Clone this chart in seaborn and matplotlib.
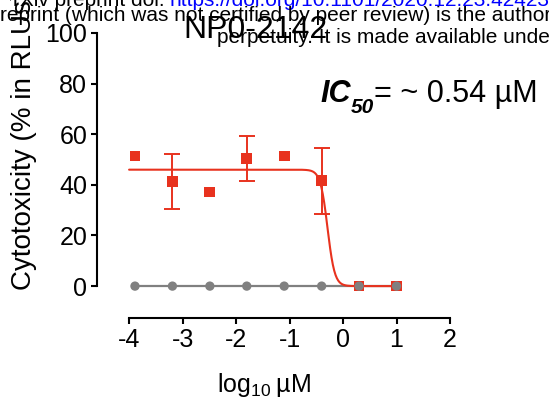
import numpy as np
import pandas as pd
import matplotlib
matplotlib.use("Agg")
import matplotlib.pyplot as plt
import seaborn as sns

# data (log10 uM, 5-fold dilution from 10 uM)
log_conc = [-3.89, -3.19, -2.49, -1.80, -1.10, -0.40, 0.30, 1.00]
cytotox = [51.4, 41.2, 37.2, 50.3, 51.4, 41.6, 0.0, 0.0]
err_lo = [0.0, 10.9, 0.0, 8.7, 0.0, 13.0, 0.0, 0.0]
err_hi = [0.0, 11.0, 0.0, 9.0, 0.0, 13.1, 0.0, 0.0]
control = [0, 0, 0, 0, 0, 0, 0, 0]

# fitted 4PL parameters
fit_top = 46.0
fit_bottom = 0.0
fit_logic50 = -0.29
fit_hill = 6.5

red = "#e8321e"
gray = "#808080"

sns.set_theme(style="ticks")
plt.rcParams["font.family"] = ["Liberation Sans", "DejaVu Sans"]
plt.rcParams["axes.unicode_minus"] = False
plt.rcParams["mathtext.fontset"] = "custom"
plt.rcParams["mathtext.rm"] = "Liberation Sans"

fig = plt.figure(figsize=(5.49, 4.12), dpi=100)
ax = fig.add_axes([97 / 549, 1 - 318 / 412, (450 - 97) / 549, (318 - 33) / 412])

df = pd.DataFrame({"x": log_conc, "y": cytotox, "ctrl": control})

# control line (gray)
sns.lineplot(data=df, x="x", y="ctrl", ax=ax, color=gray, lw=1.6, zorder=2)

# fitted curve
xs = np.linspace(-4.0, 1.0, 400)
ys = fit_bottom + (fit_top - fit_bottom) / (1 + 10 ** (fit_hill * (xs - fit_logic50)))
ax.plot(xs, ys, color=red, lw=1.5, zorder=3)

# error bars
has_err = [i for i in range(len(log_conc)) if err_hi[i] > 0]
ax.errorbar([log_conc[i] for i in has_err], [cytotox[i] for i in has_err],
            yerr=[[err_lo[i] for i in has_err], [err_hi[i] for i in has_err]],
            fmt="none", ecolor=red, elinewidth=1.4, capsize=5.5, capthick=1.4, zorder=3)

sns.scatterplot(data=df, x="x", y="y", ax=ax, marker="s", s=60, color=red,
                edgecolor="none", zorder=4)
sns.scatterplot(data=df, x="x", y="ctrl", ax=ax, marker="o", s=45, color=gray,
                edgecolor="none", zorder=5)

ax.set_xlim(-4.6, 2.0)
ax.set_ylim(-12.6, 100)
ax.spines["left"].set_bounds(0, 100)
ax.spines["bottom"].set_bounds(-4, 2)
for s in ["top", "right"]:
    ax.spines[s].set_visible(False)
for s in ["left", "bottom"]:
    ax.spines[s].set_color("black")
    ax.spines[s].set_linewidth(1.5)
ax.set_xticks([-4, -3, -2, -1, 0, 1, 2])
ax.set_yticks([0, 20, 40, 60, 80, 100])
ax.tick_params(axis="both", labelsize=18, width=1.5, length=4, color="black",
               labelcolor="black", pad=3)
ax.set_xlabel("")
ax.set_ylabel("")

# labels and title placed in figure pixels
fig.text(264 / 549, 1 - 392 / 412, "log$_{10}$\u2009\u00b5M", fontsize=18,
         ha="center", va="baseline", color="black")
fig.text(24 / 549, 1 - 140 / 412, "Cytotoxicity (% in RLUs)", fontsize=20,
         rotation=90, ha="center", va="center", color="black")
fig.text(255 / 549, 1 - 38 / 412, "NP0-2142", fontsize=23, ha="center",
         va="baseline", color="black")

# IC50 annotation
t1 = fig.text(320 / 549, 1 - 102 / 412, "IC", fontsize=22, fontweight="bold",
              fontstyle="italic", color="black", va="baseline")
t2 = ax.annotate("50", xy=(1, 0), xycoords=t1, xytext=(0, -6),
                 textcoords="offset points", fontsize=15, fontweight="bold",
                 fontstyle="italic", va="bottom", color="black")
ax.annotate("= ~ 0.54 \u00b5M", xy=(1, 0), xycoords=t2, xytext=(0, 6),
            textcoords="offset points", fontsize=22, va="bottom", color="black")

# page header overlay
fig.text(170 / 549, 1 - 6 / 412, "rXiv preprint doi: ", fontsize=15, ha="right",
         va="baseline", color="black")
fig.text(170 / 549, 1 - 6 / 412, "https://doi.org/10.1101/2020.12.23.424231", fontsize=15,
         ha="left", va="baseline", color="blue")
fig.text(0, 1 - 21 / 412, "reprint (which was not certified by peer review) is the author/funder",
         fontsize=15, va="baseline", color="black")
fig.text(217 / 549, 1 - 43 / 412, "perpetuity. It is made available under a",
         fontsize=15, va="baseline", color="black")

fig.savefig("out.png", dpi=100)
